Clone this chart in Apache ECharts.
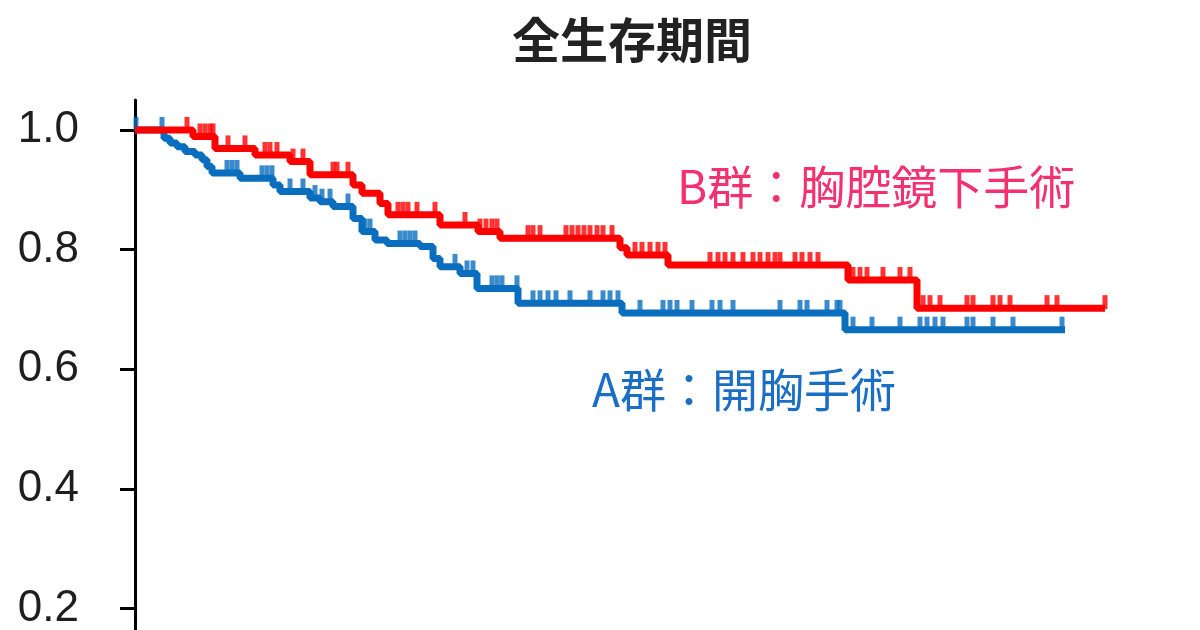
<!DOCTYPE html>
<html>
<head>
<meta charset="utf-8">
<script src="https://cdn.jsdelivr.net/npm/echarts@6/dist/echarts.min.js"></script>
<style>
html,body{margin:0;padding:0;background:#fff;}
#chart{width:1200px;height:630px;}
</style>
</head>
<body>
<div id="chart"></div>
<script>
// Kaplan-Meier steps: [time, survival]
const groupBSteps = [
  [0, 1.0], [5.8, 0.989], [8.0, 0.969], [12.0, 0.958], [15.5, 0.947], [17.5, 0.925],
  [21.8, 0.908], [22.7, 0.894], [24.5, 0.877], [25.3, 0.858], [30.5, 0.841],
  [34.3, 0.83], [36.5, 0.819], [48.5, 0.803], [49.2, 0.791], [53.3, 0.774],
  [71.3, 0.749], [78.2, 0.702], [97.0, 0.702]
];
const groupASteps = [
  [0, 1.0], [2.9, 0.986], [3.5, 0.978], [4.2, 0.972], [5.0, 0.964], [6.0, 0.958],
  [6.7, 0.95], [7.2, 0.939], [7.7, 0.928], [10.5, 0.919], [13.8, 0.908], [14.5, 0.897],
  [17.5, 0.886], [18.5, 0.88], [19.8, 0.872], [21.8, 0.852], [22.7, 0.83], [24.0, 0.816],
  [25.2, 0.81], [28.5, 0.805], [29.8, 0.785], [30.5, 0.771], [32.5, 0.76], [34.2, 0.735],
  [38.3, 0.71], [48.7, 0.694], [71.0, 0.666], [93.0, 0.666]
];
// censored observation times
const groupBCensor = [
  5.2, 6.5, 7.0, 7.5, 7.8, 9.3, 11.0, 13.0, 13.5, 14.2, 15.8, 16.8, 19.8, 20.2, 21.3,
  26.3, 26.8, 27.3, 28.2, 30.0, 33.0, 34.5, 35.1, 35.7, 36.2,
  39.3, 39.8, 40.5, 43.1, 43.7, 44.3, 44.9, 45.5, 46.2, 46.8, 47.7,
  50.0, 50.7, 51.5, 52.3, 53.0,
  57.5, 58.3, 59.0, 59.8, 60.8, 61.8, 62.5, 63.3, 64.0, 64.5, 66.0, 66.7, 67.5, 68.3,
  71.8, 72.5, 73.2, 74.8, 76.5, 77.5,
  78.8, 79.5, 80.5, 83.2, 83.8, 85.8, 86.5, 87.5, 91.2, 92.2, 97.0
];
const groupACensor = [
  0.1, 2.7, 9.2, 9.7, 10.2, 12.7, 13.2, 13.7, 15.5, 16.8, 18.0, 18.7, 19.5, 21.3,
  23.0, 23.5, 26.5, 27.0, 27.5, 28.0, 32.0, 33.2, 33.8, 35.7, 36.2, 36.7, 38.2,
  39.8, 40.5, 41.3, 42.1, 43.5, 45.5, 46.8, 47.5, 48.3,
  50.5, 52.8, 53.5, 54.2, 55.7, 57.7, 58.5, 59.8, 64.5, 66.5, 67.2, 69.2, 70.2, 70.5,
  71.8, 73.7, 76.5, 78.5, 79.2, 80.0, 80.8, 83.2, 83.8, 85.8, 87.8, 92.7
];
const yTicks = [0.2, 0.4, 0.6, 0.8, 1.0];
const titleText = '全生存期間';
const labelB = 'B群：胸腔鏡下手術';
const labelA = 'A群：開胸手術';

function levelAt(steps, t) {
  let v = steps[0][1];
  for (const s of steps) { if (s[0] <= t) v = s[1]; }
  return v;
}
const censorPts = (steps, times) => times.map(t => [t, levelAt(steps, t)]);

const BLUE = '#0a6ebf';
const RED = '#ff0000';

const chart = echarts.init(document.getElementById('chart'), null, {renderer: 'canvas'});
chart.setOption({
  animation: false,
  backgroundColor: '#ffffff',
  title: {
    text: titleText,
    left: 507,
    top: 11,
    textStyle: {fontFamily: 'Noto Sans CJK JP', fontSize: 48, fontWeight: 'bold', color: '#222222'}
  },
  grid: {left: 135, top: 100, width: 1000, bottom: -98, containLabel: false, outerBoundsMode: 'none'},
  xAxis: {
    type: 'value', min: 0, max: 100, show: false
  },
  yAxis: {
    type: 'value', min: 0, max: 1.05,
    splitLine: {show: false},
    axisLine: {show: true, lineStyle: {color: '#000', width: 3}},
    axisTick: {show: true, length: 15, inside: false, lineStyle: {color: '#000', width: 3}, customValues: yTicks},
    axisLabel: {
      show: true, margin: 56, fontSize: 44, color: '#1e1e1e',
      fontFamily: 'Liberation Sans', customValues: yTicks,
      formatter: v => v.toFixed(1)
    }
  },
  series: [
    {
      name: 'A', type: 'line', step: 'end', data: groupASteps, showSymbol: false,
      lineStyle: {color: BLUE, width: 7}, z: 2
    },
    {
      name: 'Acensor', type: 'scatter', data: censorPts(groupASteps, groupACensor),
      symbol: 'rect', symbolSize: [5, 14], symbolOffset: [0, -6],
      itemStyle: {color: BLUE}, z: 2
    },
    {
      name: 'B', type: 'line', step: 'end', data: groupBSteps, showSymbol: false,
      lineStyle: {color: RED, width: 7}, z: 3
    },
    {
      name: 'Bcensor', type: 'scatter', data: censorPts(groupBSteps, groupBCensor),
      symbol: 'rect', symbolSize: [5, 14], symbolOffset: [0, -6],
      itemStyle: {color: RED}, z: 3
    }
  ],
  graphic: [
    {type: 'text', left: 677, top: 164, style: {text: labelB, fill: '#f5306f', fontSize: 46, fontFamily: 'Noto Sans CJK JP'}},
    {type: 'text', left: 592, top: 367, style: {text: labelA, fill: '#1a6fc4', fontSize: 46, fontFamily: 'Noto Sans CJK JP'}}
  ]
});
</script>
</body>
</html>
